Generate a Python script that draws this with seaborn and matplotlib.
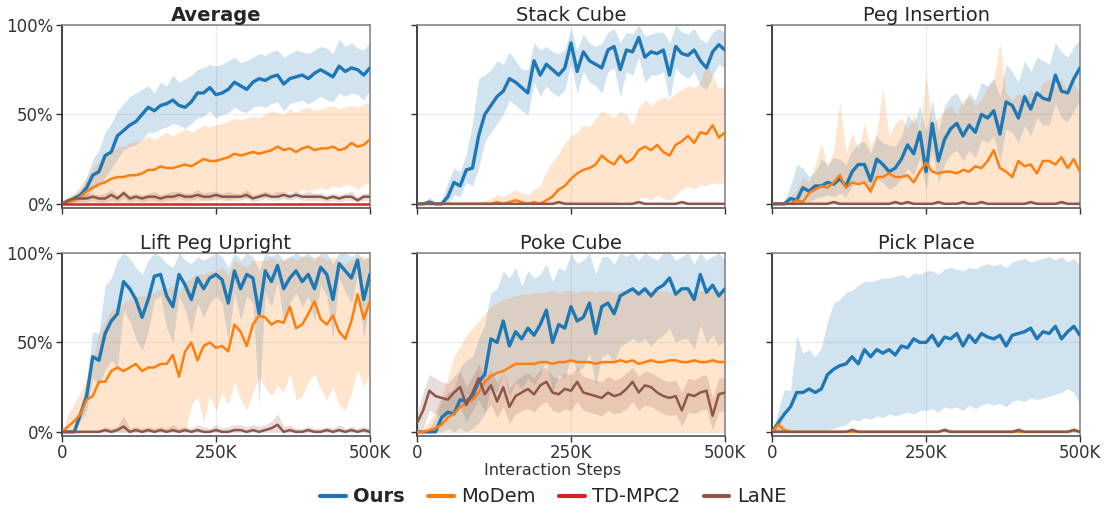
import matplotlib
matplotlib.use("Agg")
import matplotlib.pyplot as plt
import seaborn as sns
import pandas as pd
from matplotlib.lines import Line2D

# ---------------- data (success rate in %) ----------------
STEPS = list(range(0, 500001, 10000))
TASKS = ["Average", "Stack Cube", "Peg Insertion", "Lift Peg Upright", "Poke Cube", "Pick Place"]
METHODS = ["Ours", "MoDem", "TD-MPC2", "LaNE"]
X_TICKS = [0, 250000, 500000]
X_TICK_LABELS = ["0", "250K", "500K"]
Y_TICKS = [0, 50, 100]
Y_TICK_LABELS = ["0%", "50%", "100%"]

tdmpc2_zero = [0] * 51

# Average
avg_ours = [0,1,3,5,9,16,18,27,29,38,41,44,46,50,54,52,55,56,58,55,54,57,62,62,65,61,62,64,68,66,64,68,70,69,71,72,67,70,71,72,70,73,75,73,71,77,74,76,75,72,76]
avg_ours_hi = [2,3,5,8,15,25,30,40,45,52,56,60,62,64,66,62,68,66,72,68,70,72,75,76,78,77,78,80,82,79,80,82,84,83,85,86,82,84,86,85,84,86,88,87,84,92,88,90,87,86,90]
avg_ours_lo = [0,0,1,2,4,8,10,15,20,25,30,32,33,36,40,40,42,43,45,44,42,45,48,49,52,48,50,51,54,52,51,54,55,54,56,57,52,56,57,58,56,58,60,58,57,62,60,62,61,58,64]
avg_modem = [0,1,2,4,7,9,11,12,14,15,15,16,16,17,19,19,21,20,20,21,22,21,23,25,24,24,25,26,28,27,28,29,28,29,30,32,30,31,29,31,32,30,31,31,32,30,31,34,32,33,36]
avg_modem_hi = [1,3,6,10,15,20,24,28,30,32,32,34,35,36,38,36,38,40,38,40,42,40,42,44,43,44,45,46,48,47,48,49,48,50,52,51,50,53,51,53,54,52,53,54,55,53,54,55,54,56,57]
avg_modem_lo = [0,0,0,0,0,0,0,0,0,0,0,0,0,0,0,0,0,0,0,0,0,1,1,2,2,2,3,2,3,4,3,4,5,4,6,5,6,7,6,8,7,8,9,8,10,9,11,10,8,11,12]
avg_lane = [0,2,3,3,3,4,3,3,5,3,6,3,4,3,4,4,3,4,4,5,4,4,5,4,4,5,4,4,4,4,5,3,4,5,4,4,5,4,5,4,4,4,4,3,4,3,4,4,2,4,4]
avg_lane_hi = [1,4,5,5,6,6,5,6,8,5,8,5,6,5,6,7,5,6,7,7,6,6,8,6,7,7,6,7,6,6,8,5,6,7,6,7,7,6,7,6,7,6,6,5,6,5,6,7,4,6,6]
avg_lane_lo = [0,1,1,1,1,2,1,1,2,1,3,1,2,1,2,2,1,2,2,3,2,2,3,2,2,3,2,2,2,2,3,1,2,3,2,2,3,2,3,2,2,2,2,1,2,1,2,2,1,2,2]

# Stack Cube
stack_ours = [0,0,1,0,0,4,12,10,19,20,38,50,55,60,63,70,68,65,62,80,72,78,75,72,76,90,74,85,80,78,76,86,88,75,86,85,93,82,85,84,86,72,88,84,83,86,80,76,85,89,86]
stack_ours_hi = [0,0,4,0,2,12,20,18,28,45,70,72,75,80,78,85,80,75,75,90,86,88,85,84,86,98,86,95,90,88,90,96,98,90,96,95,100,94,95,96,96,90,100,96,95,98,92,90,96,98,96]
stack_ours_lo = [0,0,0,0,0,0,5,4,12,10,20,35,40,45,50,58,55,52,50,68,60,66,62,60,64,78,62,74,68,66,62,74,76,60,74,72,82,68,72,72,74,58,76,72,70,74,66,64,72,78,76]
stack_modem = [0,0,0,0,0,0,0,0,0,0,0,0,0,1,0,1,2,1,0,1,0,2,4,8,10,14,17,19,20,22,27,24,22,27,23,25,30,32,30,33,29,27,33,35,38,34,40,39,44,37,40]
stack_modem_hi = [0,0,0,0,0,0,0,0,0,0,1,2,3,5,4,6,8,6,5,8,10,18,24,28,34,38,40,44,43,48,52,50,48,52,50,44,54,58,55,58,60,58,62,64,66,65,68,78,72,64,67]
stack_modem_lo = [0,0,0,0,0,0,0,0,0,0,0,0,0,0,0,0,0,0,0,0,0,0,0,0,0,0,0,0,0,0,0,1,0,2,1,0,3,4,2,5,3,2,5,8,10,8,11,10,12,11,12]
stack_lane = [0,0,0,0,0,0,0,0,0,0,0,0,0,0,0,0,0,0,0,0,0,0,0,1,0,0,0,0,0,0,0,0,0,0,0,0,1,0,0,0,0,0,0,1,0,0,0,0,0,0,0]
stack_lane_hi = [1,1,1,1,1,1,1,1,1,1,1,1,1,1,1,1,1,1,1,1,1,1,1,2,1,1,1,1,1,1,1,1,1,1,1,1,2,1,1,1,1,1,1,2,1,1,1,1,1,1,1]
stack_lane_lo = [0] * 51

# Peg Insertion
peg_ours = [0,0,0,3,2,9,7,10,10,12,11,14,10,18,22,22,13,25,22,18,20,25,33,28,40,18,45,24,36,42,45,38,44,40,50,48,52,39,57,55,48,60,53,62,59,58,72,63,62,70,76]
peg_ours_hi = [0,0,2,10,22,20,15,18,25,22,26,25,22,30,34,35,28,38,34,33,32,38,50,45,55,40,58,40,55,60,62,55,62,58,68,66,70,60,78,74,68,80,74,82,80,78,90,85,82,88,92]
peg_ours_lo = [0,0,0,0,0,2,1,3,4,5,4,6,4,10,12,12,5,14,12,8,10,14,20,16,26,8,30,12,22,28,30,24,30,26,36,34,38,24,42,40,34,44,38,48,44,44,56,48,46,52,58]
peg_modem = [0,0,0,0,2,1,6,8,10,9,12,16,9,12,11,12,7,15,15,17,15,15,16,12,18,23,18,17,18,18,17,19,18,21,20,24,30,20,18,15,24,21,22,17,24,24,22,26,20,25,18]
peg_modem_hi = [0,0,1,4,8,15,12,22,34,20,30,57,28,40,30,45,32,40,64,38,45,48,42,50,40,72,45,48,52,55,50,58,60,55,58,65,70,90,62,58,62,58,64,60,68,70,65,70,62,68,60]
peg_modem_lo = [0] * 51
peg_lane = [0,0,0,0,0,0,0,0,0,0,1,0,0,0,0,0,0,0,0,0,1,0,1,0,0,0,0,1,0,0,0,1,0,0,1,0,0,0,0,0,0,0,1,0,0,0,0,1,0,0,0]
peg_lane_hi = [1,1,1,1,1,1,1,1,1,1,2,1,1,1,1,1,1,1,1,1,2,1,2,1,1,1,1,2,1,1,1,2,1,1,2,1,1,1,1,1,1,1,2,1,1,1,1,2,1,1,1]
peg_lane_lo = [0] * 51

# Lift Peg Upright
lift_ours = [0,0,0,10,20,42,40,55,62,66,84,80,74,64,74,87,88,76,70,88,82,74,86,80,86,88,85,72,90,80,88,86,66,90,84,93,80,86,90,84,88,80,92,88,74,94,90,86,96,74,88]
lift_ours_hi = [0,0,2,14,28,56,55,82,86,96,100,97,92,88,96,100,98,94,92,100,96,94,98,96,98,100,98,92,100,96,100,98,90,100,98,100,96,98,100,98,100,96,100,100,94,100,100,98,100,96,98]
lift_ours_lo = [0,0,0,6,12,30,26,35,40,36,68,62,52,45,56,74,76,58,50,76,68,55,72,64,72,76,72,50,78,62,76,72,15,78,70,84,62,72,78,70,76,62,82,76,52,86,78,72,88,52,76]
lift_modem = [0,3,6,10,18,20,28,28,34,36,34,36,38,34,36,36,38,38,43,31,45,50,40,48,50,47,48,45,60,56,48,60,65,64,60,62,61,70,58,60,66,73,63,60,65,56,52,62,77,63,73]
lift_modem_hi = [0,10,16,22,30,40,55,62,68,70,72,74,76,76,76,78,80,80,82,78,84,86,88,88,90,90,92,88,96,94,92,96,96,96,98,96,96,98,96,98,98,98,98,96,98,96,94,96,98,98,98]
lift_modem_lo = [0,0,0,0,0,0,0,0,0,0,0,0,0,0,0,0,0,0,0,0,0,15,20,5,20,12,22,15,28,18,12,22,30,25,20,26,22,33,18,20,28,32,24,18,25,15,12,22,35,25,33]
lift_lane = [0,0,0,0,0,0,0,1,0,1,3,0,1,0,1,0,1,0,1,0,1,0,1,0,0,1,0,0,1,1,0,1,0,1,2,4,0,1,0,0,1,0,0,1,0,1,0,1,0,1,0]
lift_lane_hi = [1,1,1,1,1,1,1,3,2,3,9,2,3,2,3,2,3,2,4,2,3,2,4,3,2,4,2,3,4,4,3,4,3,4,6,10,3,4,2,2,3,2,2,3,2,4,2,3,2,3,2]
lift_lane_lo = [0] * 51

# Poke Cube
poke_ours = [0,0,0,0,8,11,10,18,17,20,28,32,52,50,62,48,56,52,58,54,60,68,50,60,58,70,62,64,72,55,70,72,66,76,78,80,77,80,76,80,82,86,77,80,80,74,88,78,82,76,80]
poke_ours_hi = [0,0,2,8,18,22,24,36,40,42,52,60,78,80,90,86,92,82,90,86,88,94,84,92,90,100,94,96,100,88,98,98,94,100,98,100,96,100,98,96,100,100,96,98,100,94,100,96,98,100,96]
poke_ours_lo = [0,0,0,0,0,2,0,2,0,2,5,10,25,22,34,20,28,24,30,26,32,40,22,32,30,42,34,36,44,26,42,44,38,48,50,52,50,52,48,52,54,58,50,52,52,46,60,50,54,48,52]
poke_modem = [0,0,1,2,4,8,10,14,16,18,22,28,31,33,34,36,38,38,38,38,39,39,38,39,39,40,39,39,39,38,39,39,39,40,39,40,38,39,40,39,39,40,40,39,39,40,39,39,40,39,39]
poke_modem_hi = [0,2,6,12,20,30,42,48,54,58,62,66,70,72,74,75,76,77,77,78,78,78,79,78,79,79,78,79,79,78,79,79,78,79,79,79,78,79,79,79,79,78,79,79,79,78,79,79,79,79,78]
poke_modem_lo = [0] * 51
poke_lane = [5,12,23,20,19,18,22,25,15,22,30,21,26,17,25,14,20,22,24,21,26,28,22,21,24,23,28,22,21,20,19,22,20,21,24,28,22,26,25,22,20,19,20,12,21,20,22,23,9,21,22]
poke_lane_hi = [10,22,32,30,28,27,31,34,25,31,38,30,35,27,34,24,29,31,33,30,35,36,31,30,33,32,36,31,30,29,28,31,29,30,33,36,31,34,33,31,29,28,29,22,30,29,31,32,19,30,31]
poke_lane_lo = [0,2,12,10,9,8,12,14,6,12,18,11,15,8,14,5,10,12,13,11,15,17,12,11,13,12,17,12,11,10,9,12,10,11,13,17,12,15,14,12,10,9,10,3,11,10,12,13,1,11,12]

# Pick Place
pick_ours = [0,5,10,14,22,22,24,22,24,32,35,37,38,42,38,46,42,46,44,46,43,48,47,52,50,50,54,48,53,52,55,48,54,50,55,53,52,54,48,54,55,56,58,52,56,55,59,52,56,59,54]
pick_ours_hi = [0,12,24,23,54,44,46,42,47,62,72,74,78,79,82,84,84,85,86,86,87,88,86,89,88,90,90,88,91,92,91,90,92,91,93,94,93,94,92,95,96,97,95,96,97,98,96,98,95,97,93]
pick_ours_lo = [0,0,0,0,0,0,0,0,0,1,2,3,4,7,6,8,7,9,8,10,9,10,11,10,12,12,13,11,14,13,14,12,15,13,15,16,15,16,14,17,18,17,19,18,19,20,21,22,24,22,15]
pick_modem = [0,4,1,0,0,0,0,0,0,0,0,0,0,0,0,0,0,0,0,0,0,0,0,0,0,0,0,0,1,0,0,0,0,0,0,0,0,0,0,0,0,0,0,0,0,0,0,0,0,1,0]
pick_modem_hi = [1,8,3,1,1,1,1,1,1,1,1,1,1,1,1,1,1,1,1,1,1,1,1,1,1,1,1,1,2,1,1,1,1,1,1,1,1,1,1,1,1,1,1,1,1,1,1,1,1,2,1]
pick_modem_lo = [0] * 51
pick_lane = [0,0,0,0,0,0,0,0,0,0,0,0,0,1,0,0,0,0,0,0,0,0,0,0,0,0,0,0,1,0,0,0,0,0,0,0,0,0,0,0,1,0,0,0,0,0,0,0,0,1,0]
pick_lane_hi = [1,2,1,1,1,1,1,1,1,1,1,1,1,3,1,1,1,1,1,1,1,1,1,1,1,1,1,1,3,1,1,1,1,1,1,1,1,1,1,1,3,1,1,1,1,1,1,1,1,3,1]
pick_lane_lo = [0] * 51

# TD-MPC2 curve is only visible in the Average panel
DATA = {
    "Average": {"Ours": (avg_ours, avg_ours_lo, avg_ours_hi),
                "MoDem": (avg_modem, avg_modem_lo, avg_modem_hi),
                "TD-MPC2": (tdmpc2_zero, tdmpc2_zero, tdmpc2_zero),
                "LaNE": (avg_lane, avg_lane_lo, avg_lane_hi)},
    "Stack Cube": {"Ours": (stack_ours, stack_ours_lo, stack_ours_hi),
                   "MoDem": (stack_modem, stack_modem_lo, stack_modem_hi),
                   "LaNE": (stack_lane, stack_lane_lo, stack_lane_hi)},
    "Peg Insertion": {"Ours": (peg_ours, peg_ours_lo, peg_ours_hi),
                      "MoDem": (peg_modem, peg_modem_lo, peg_modem_hi),
                      "LaNE": (peg_lane, peg_lane_lo, peg_lane_hi)},
    "Lift Peg Upright": {"Ours": (lift_ours, lift_ours_lo, lift_ours_hi),
                         "MoDem": (lift_modem, lift_modem_lo, lift_modem_hi),
                         "LaNE": (lift_lane, lift_lane_lo, lift_lane_hi)},
    "Poke Cube": {"Ours": (poke_ours, poke_ours_lo, poke_ours_hi),
                  "MoDem": (poke_modem, poke_modem_lo, poke_modem_hi),
                  "LaNE": (poke_lane, poke_lane_lo, poke_lane_hi)},
    "Pick Place": {"Ours": (pick_ours, pick_ours_lo, pick_ours_hi),
                   "MoDem": (pick_modem, pick_modem_lo, pick_modem_hi),
                   "LaNE": (pick_lane, pick_lane_lo, pick_lane_hi)},
}

# ---------------- style ----------------
sns.set_theme(style="ticks")
plt.rcParams["font.family"] = ["DejaVu Sans"]
COLORS = {"Ours": "#1f77b4", "MoDem": "#ff7f0e", "TD-MPC2": "#d62728", "LaNE": "#8c564b"}
LW = {"Ours": 2.4, "MoDem": 1.8, "TD-MPC2": 1.8, "LaNE": 1.8}

rows = []
for task in TASKS:
    for m in METHODS:
        if m not in DATA[task]:
            continue
        mean, lo, hi = DATA[task][m]
        for s, v, l, h in zip(STEPS, mean, lo, hi):
            rows.append((task, m, s, v, l, h))
df = pd.DataFrame(rows, columns=["task", "method", "step", "value", "lo", "hi"])

fig, axes = plt.subplots(2, 3, figsize=(11.07, 5.14), dpi=100, sharex=True, sharey=True)
fig.subplots_adjust(left=0.056, right=0.9756, top=0.9514, bottom=0.1518, wspace=0.153, hspace=0.246)

for ax, task in zip(axes.flat, TASKS):
    d = df[df.task == task]
    ax.grid(True, color="#ebebeb", linewidth=0.9, zorder=0)
    ax.set_axisbelow(True)
    present = [m for m in METHODS if m in DATA[task]]
    for m in present:
        dm = d[d.method == m]
        ax.fill_between(dm.step, dm.lo, dm.hi, color=COLORS[m], alpha=0.2, linewidth=0, zorder=1)
    for i, m in enumerate(present):
        dm = d[d.method == m]
        sns.lineplot(data=dm, x="step", y="value", color=COLORS[m], linewidth=LW[m],
                     ax=ax, legend=False, errorbar=None, zorder=3 + i)
    ax.set_xlim(0, 500000)
    ax.set_ylim(-2.3, 100)
    ax.set_xticks(X_TICKS)
    ax.set_xticklabels(X_TICK_LABELS)
    ax.set_yticks(Y_TICKS)
    ax.set_yticklabels(Y_TICK_LABELS)
    ax.set_xlabel("")
    ax.set_ylabel("")
    ax.tick_params(axis="both", labelsize=12, length=4, width=1, color="#333333", labelcolor="#333333", pad=2)
    ax.set_title(task, fontsize=14, color="#262626", pad=3,
                 fontweight="bold" if task == "Average" else "normal")
    for side in ["top", "right"]:
        ax.spines[side].set_visible(True)
        ax.spines[side].set_color("#888888")
        ax.spines[side].set_linewidth(1.2)
    ax.spines["left"].set_color("#222222")
    ax.spines["bottom"].set_color("#555555")
    ax.spines["left"].set_linewidth(1.2)
    ax.spines["bottom"].set_linewidth(1.2)

fig.text(553 / 1107, 1 - 471 / 514, "Interaction Steps", ha="center", va="center", fontsize=11.5, color="#333333")

handles = [Line2D([0], [0], color=COLORS[m], linewidth=3) for m in METHODS]
leg = fig.legend(handles, METHODS, loc="center", bbox_to_anchor=(0.5, 1 - 497 / 514), ncol=4,
                 frameon=False, fontsize=14, handlelength=1.3, columnspacing=1.2, handletextpad=0.4)
for t in leg.get_texts():
    t.set_color("#262626")
leg.get_texts()[0].set_fontweight("bold")

fig.savefig("out.png", dpi=100)
